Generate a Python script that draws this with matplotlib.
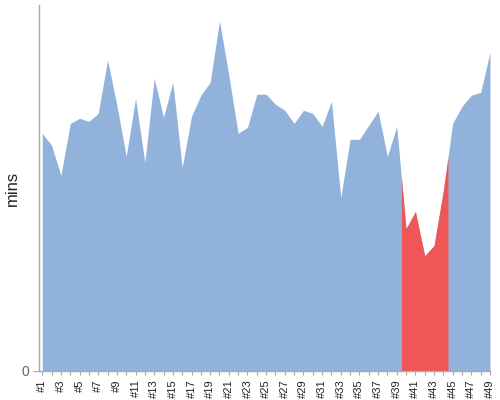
import numpy as np
import matplotlib

matplotlib.use("Agg")
import matplotlib.pyplot as plt

plt.rcParams["font.family"] = ["Liberation Sans", "DejaVu Sans"]

# run ids and durations (mins, arbitrary scale)
runs = [f"#{i}" for i in range(1, 50)]
mins = [23.7, 22.5, 19.5, 24.7, 25.2, 24.9, 25.7, 31.0, 26.5, 21.4,
        27.2, 20.8, 29.2, 25.3, 28.8, 20.3, 25.4, 27.5, 28.8, 34.9,
        29.5, 23.7, 24.3, 27.6, 27.6, 26.6, 26.0, 24.7, 26.0, 25.7,
        24.4, 26.9, 17.3, 23.1, 23.1, 24.5, 25.9, 21.4, 24.4, 14.2,
        15.9, 11.5, 12.5, 18.0, 24.7, 26.4, 27.5, 27.8, 31.8]
# highlighted span (between run positions)
highlight = (39.5, 44.5)

BLUE = "#91b3db"
RED = "#f15656"

x = np.arange(1, len(mins) + 1)
y = np.array(mins)

fig = plt.figure(figsize=(5, 4), dpi=100)
ax = fig.add_axes([0.078, 0.0725, 0.902, 0.915])

ax.fill_between(x, 0, y, color=BLUE, linewidth=0)

lo, hi = highlight
xs = np.concatenate([[lo], x[(x > lo) & (x < hi)], [hi]])
ys = np.interp(xs, x, y)
ax.fill_between(xs, 0, ys, color=RED, linewidth=0)

ax.set_xlim(0.65, len(mins))
ax.set_ylim(0, 36.5)

ax.set_xticks(x)
ax.set_xticklabels([r if i % 2 == 0 else "" for i, r in enumerate(runs)],
                   rotation=90, fontsize=8, color="#222222")
ax.set_yticks([0])
ax.set_yticklabels(["0"], fontsize=10, color="#666666")
ax.tick_params(axis="x", length=3, color="#aaaaaa", pad=3)
ax.tick_params(axis="y", length=4, color="#aaaaaa", pad=3)

for s in ["top", "right"]:
    ax.spines[s].set_visible(False)
for s in ["left", "bottom"]:
    ax.spines[s].set_color("#aaaaaa")
    ax.spines[s].set_linewidth(1)

ax.set_ylabel("mins", fontsize=12, color="#222222")
ax.yaxis.set_label_coords(-0.042, 0.5)

fig.savefig("out.png", dpi=100)
